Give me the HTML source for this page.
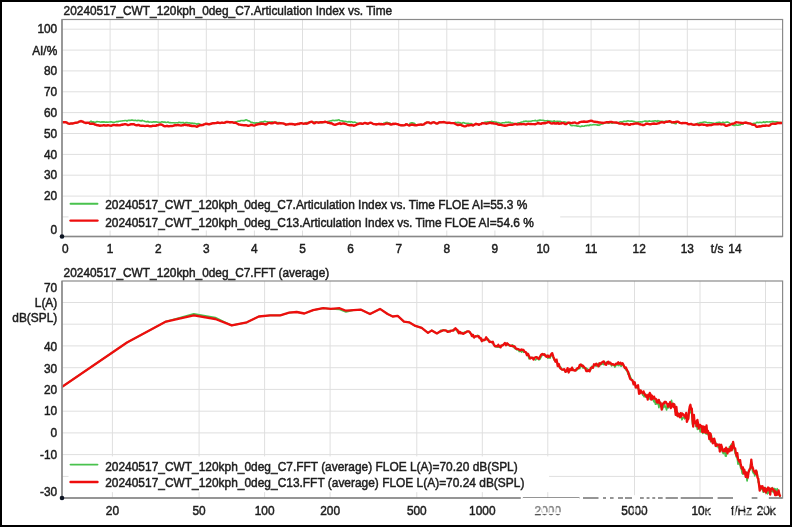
<!DOCTYPE html>
<html><head><meta charset="utf-8"><title>Articulation Index and FFT</title>
<style>html,body{margin:0;padding:0;background:#fff;overflow:hidden}svg{display:block}text{stroke:#202020;stroke-width:.5px}</style></head>
<body>
<svg width="792" height="527" viewBox="0 0 792 527" font-family="Liberation Sans, Arial, sans-serif" font-size="13.5" fill="#202020">
<defs><filter id="soft" x="-2%" y="-2%" width="104%" height="104%"><feGaussianBlur stdDeviation="0.4"/></filter><clipPath id="c1"><rect x="62" y="19.5" width="720.5" height="217"/></clipPath><clipPath id="c2"><rect x="62" y="281" width="720.5" height="217"/></clipPath></defs>
<rect width="792" height="527" fill="#fff"/>
<g filter="url(#soft)">
<g stroke="#dfdfdf" stroke-width="1">
<line x1="110.1" y1="19.5" x2="110.1" y2="236.5"/>
<line x1="158.2" y1="19.5" x2="158.2" y2="236.5"/>
<line x1="206.3" y1="19.5" x2="206.3" y2="236.5"/>
<line x1="254.4" y1="19.5" x2="254.4" y2="236.5"/>
<line x1="302.5" y1="19.5" x2="302.5" y2="236.5"/>
<line x1="350.6" y1="19.5" x2="350.6" y2="236.5"/>
<line x1="398.7" y1="19.5" x2="398.7" y2="236.5"/>
<line x1="446.8" y1="19.5" x2="446.8" y2="236.5"/>
<line x1="494.9" y1="19.5" x2="494.9" y2="236.5"/>
<line x1="543.0" y1="19.5" x2="543.0" y2="236.5"/>
<line x1="591.1" y1="19.5" x2="591.1" y2="236.5"/>
<line x1="639.2" y1="19.5" x2="639.2" y2="236.5"/>
<line x1="687.3" y1="19.5" x2="687.3" y2="236.5"/>
<line x1="735.4" y1="19.5" x2="735.4" y2="236.5"/>
<line x1="62.0" y1="216.9" x2="782.6" y2="216.9"/>
<line x1="62.0" y1="196.1" x2="782.6" y2="196.1"/>
<line x1="62.0" y1="175.2" x2="782.6" y2="175.2"/>
<line x1="62.0" y1="154.4" x2="782.6" y2="154.4"/>
<line x1="62.0" y1="133.5" x2="782.6" y2="133.5"/>
<line x1="62.0" y1="112.6" x2="782.6" y2="112.6"/>
<line x1="62.0" y1="91.8" x2="782.6" y2="91.8"/>
<line x1="62.0" y1="70.9" x2="782.6" y2="70.9"/>
<line x1="62.0" y1="50.1" x2="782.6" y2="50.1"/>
<line x1="62.0" y1="29.2" x2="782.6" y2="29.2"/>
</g>
<g clip-path="url(#c1)">
<polyline points="62.0,122.2 63.0,122.3 64.0,122.3 65.0,122.3 66.0,122.3 67.0,122.7 68.0,123.4 69.0,123.7 70.0,123.7 71.0,123.4 72.0,123.5 73.0,123.5 74.0,123.1 75.0,122.8 76.0,122.8 77.0,122.6 78.0,122.4 79.0,121.6 80.0,121.5 81.0,121.0 82.0,121.5 83.0,121.7 84.0,122.4 85.0,122.7 86.0,123.1 87.0,122.7 88.0,122.7 89.0,122.9 90.0,121.8 91.0,121.1 92.0,122.1 93.0,121.9 94.0,122.1 95.0,122.4 96.0,122.0 97.0,121.6 98.0,121.8 99.0,121.8 100.0,122.0 101.0,122.2 102.0,121.7 103.0,122.3 104.0,121.8 105.0,122.2 106.0,122.1 107.0,122.1 108.0,122.2 109.0,122.0 110.0,122.0 111.0,121.7 112.0,122.0 113.0,122.4 114.0,122.3 115.0,122.1 116.0,121.8 117.0,121.4 118.0,121.8 119.0,121.3 120.0,121.2 121.0,121.0 122.0,121.0 123.0,120.8 124.0,120.8 125.0,120.5 126.0,120.5 127.0,121.1 128.0,120.4 129.0,120.3 130.0,120.4 131.0,120.3 132.0,119.9 133.0,120.2 134.0,120.5 135.0,120.4 136.0,120.4 137.0,120.9 138.0,120.3 139.0,120.6 140.0,120.5 141.0,121.1 142.0,120.3 143.0,120.8 144.0,121.0 145.0,121.5 146.0,121.6 147.0,121.9 148.0,121.3 149.0,122.1 150.0,122.0 151.0,122.0 152.0,122.3 153.0,121.9 154.0,121.7 155.0,122.1 156.0,121.8 157.0,122.0 158.0,122.3 159.0,122.2 160.0,122.6 161.0,122.1 162.0,121.8 163.0,122.1 164.0,122.1 165.0,122.1 166.0,122.5 167.0,122.3 168.0,122.0 169.0,122.7 170.0,122.6 171.0,122.8 172.0,122.7 173.0,122.8 174.0,122.7 175.0,123.0 176.0,122.8 177.0,122.8 178.0,122.8 179.0,122.3 180.0,122.6 181.0,122.6 182.0,122.8 183.0,122.4 184.0,123.2 185.0,122.9 186.0,122.6 187.0,122.5 188.0,122.9 189.0,123.0 190.0,122.9 191.0,123.2 192.0,123.1 193.0,123.5 194.0,123.2 195.0,123.5 196.0,123.8 197.0,124.3 198.0,123.5 199.0,123.9 200.0,124.1 201.0,124.8 202.0,125.0 203.0,125.0 204.0,124.4 205.0,124.1 206.0,123.6 207.0,124.0 208.0,124.0 209.0,124.4 210.0,124.0 211.0,123.8 212.0,123.4 213.0,123.2 214.0,123.2 215.0,123.1 216.0,123.1 217.0,122.7 218.0,122.5 219.0,122.9 220.0,123.0 221.0,122.9 222.0,122.5 223.0,122.9 224.0,122.8 225.0,122.6 226.0,122.0 227.0,121.9 228.0,122.0 229.0,122.1 230.0,122.5 231.0,122.1 232.0,122.2 233.0,122.4 234.0,122.8 235.0,122.1 236.0,121.9 237.0,121.6 238.0,121.2 239.0,121.1 240.0,121.1 241.0,120.5 242.0,120.5 243.0,120.6 244.0,120.6 245.0,120.4 246.0,119.8 247.0,120.1 248.0,120.7 249.0,120.9 250.0,121.5 251.0,122.3 252.0,122.3 253.0,122.9 254.0,122.7 255.0,123.4 256.0,122.8 257.0,122.8 258.0,123.2 259.0,122.6 260.0,122.1 261.0,122.0 262.0,121.9 263.0,122.0 264.0,121.6 265.0,121.3 266.0,121.7 267.0,121.8 268.0,121.9 269.0,122.3 270.0,122.0 271.0,122.2 272.0,121.8 273.0,122.3 274.0,122.6 275.0,122.4 276.0,122.3 277.0,122.4 278.0,123.0 279.0,122.4 280.0,122.8 281.0,123.1 282.0,123.3 283.0,123.4 284.0,123.7 285.0,124.1 286.0,124.7 287.0,124.4 288.0,124.4 289.0,124.0 290.0,123.9 291.0,124.0 292.0,124.0 293.0,124.2 294.0,124.2 295.0,124.8 296.0,124.3 297.0,124.3 298.0,123.7 299.0,124.0 300.0,123.4 301.0,123.2 302.0,123.3 303.0,123.6 304.0,123.7 305.0,123.4 306.0,122.5 307.0,122.7 308.0,122.5 309.0,122.5 310.0,122.4 311.0,122.1 312.0,122.3 313.0,122.5 314.0,122.0 315.0,122.1 316.0,122.3 317.0,121.9 318.0,122.2 319.0,121.9 320.0,122.5 321.0,122.7 322.0,122.7 323.0,122.1 324.0,122.4 325.0,122.2 326.0,122.1 327.0,122.2 328.0,121.2 329.0,121.5 330.0,120.9 331.0,121.0 332.0,120.6 333.0,120.3 334.0,120.5 335.0,120.6 336.0,120.3 337.0,120.4 338.0,120.0 339.0,119.7 340.0,120.7 341.0,120.8 342.0,120.9 343.0,121.1 344.0,121.5 345.0,121.4 346.0,121.5 347.0,121.7 348.0,122.1 349.0,121.5 350.0,122.2 351.0,121.8 352.0,121.8 353.0,122.5 354.0,122.2 355.0,122.1 356.0,122.6 357.0,123.1 358.0,123.4 359.0,123.7 360.0,123.4 361.0,123.5 362.0,123.7 363.0,123.7 364.0,123.2 365.0,122.9 366.0,123.3 367.0,123.5 368.0,123.7 369.0,123.2 370.0,122.8 371.0,122.8 372.0,123.3 373.0,123.8 374.0,124.1 375.0,124.1 376.0,124.5 377.0,124.2 378.0,124.1 379.0,123.8 380.0,124.3 381.0,124.0 382.0,124.3 383.0,124.3 384.0,123.0 385.0,122.8 386.0,122.5 387.0,122.2 388.0,122.7 389.0,122.9 390.0,123.0 391.0,124.5 392.0,124.4 393.0,123.8 394.0,124.0 395.0,123.8 396.0,123.8 397.0,124.1 398.0,124.3 399.0,124.9 400.0,125.0 401.0,125.4 402.0,125.3 403.0,125.4 404.0,125.3 405.0,125.1 406.0,124.3 407.0,124.4 408.0,125.0 409.0,125.5 410.0,123.2 411.0,122.9 412.0,122.8 413.0,122.9 414.0,123.2 415.0,123.9 416.0,125.3 417.0,125.2 418.0,124.9 419.0,124.7 420.0,124.6 421.0,124.5 422.0,124.7 423.0,124.6 424.0,124.3 425.0,123.3 426.0,123.0 427.0,122.4 428.0,122.4 429.0,122.5 430.0,123.1 431.0,123.4 432.0,122.7 433.0,122.4 434.0,122.3 435.0,122.8 436.0,123.4 437.0,123.6 438.0,123.2 439.0,122.4 440.0,122.3 441.0,122.4 442.0,122.3 443.0,122.3 444.0,122.0 445.0,122.4 446.0,122.6 447.0,123.0 448.0,122.7 449.0,122.8 450.0,122.8 451.0,123.1 452.0,123.1 453.0,123.1 454.0,122.9 455.0,122.5 456.0,122.4 457.0,122.9 458.0,122.3 459.0,122.8 460.0,122.6 461.0,123.2 462.0,123.3 463.0,122.5 464.0,122.8 465.0,123.3 466.0,123.4 467.0,123.5 468.0,123.3 469.0,123.5 470.0,123.7 471.0,123.5 472.0,123.9 473.0,125.5 474.0,124.8 475.0,124.4 476.0,123.7 477.0,124.3 478.0,124.3 479.0,124.9 480.0,124.1 481.0,124.1 482.0,123.2 483.0,122.6 484.0,122.9 485.0,122.1 486.0,122.4 487.0,122.0 488.0,121.8 489.0,122.1 490.0,121.7 491.0,121.6 492.0,121.4 493.0,121.7 494.0,121.8 495.0,122.1 496.0,122.0 497.0,122.6 498.0,122.6 499.0,122.8 500.0,123.2 501.0,123.4 502.0,122.9 503.0,122.8 504.0,122.7 505.0,122.6 506.0,122.2 507.0,122.6 508.0,122.1 509.0,122.5 510.0,122.3 511.0,122.8 512.0,123.0 513.0,123.0 514.0,123.8 515.0,123.6 516.0,124.1 517.0,123.6 518.0,122.9 519.0,122.7 520.0,122.7 521.0,122.3 522.0,122.0 523.0,121.7 524.0,121.2 525.0,121.5 526.0,121.0 527.0,121.6 528.0,121.3 529.0,121.2 530.0,121.3 531.0,121.4 532.0,120.9 533.0,120.7 534.0,120.8 535.0,120.4 536.0,120.6 537.0,121.1 538.0,120.3 539.0,120.6 540.0,119.9 541.0,120.2 542.0,120.2 543.0,120.3 544.0,120.6 545.0,121.0 546.0,120.7 547.0,120.8 548.0,120.6 549.0,121.1 550.0,121.0 551.0,121.4 552.0,121.2 553.0,121.7 554.0,120.8 555.0,121.3 556.0,121.6 557.0,121.4 558.0,121.3 559.0,121.5 560.0,121.3 561.0,121.7 562.0,122.4 563.0,122.2 564.0,121.8 565.0,122.0 566.0,122.2 567.0,122.7 568.0,122.4 569.0,122.8 570.0,124.4 571.0,125.5 572.0,125.6 573.0,125.5 574.0,125.5 575.0,125.7 576.0,125.4 577.0,126.2 578.0,125.9 579.0,126.2 580.0,126.6 581.0,126.5 582.0,125.9 583.0,126.3 584.0,126.2 585.0,125.7 586.0,125.5 587.0,125.6 588.0,125.2 589.0,125.8 590.0,124.8 591.0,125.0 592.0,125.0 593.0,124.8 594.0,124.6 595.0,124.8 596.0,124.8 597.0,125.1 598.0,124.9 599.0,125.4 600.0,124.8 601.0,124.1 602.0,124.0 603.0,123.3 604.0,123.4 605.0,122.9 606.0,122.8 607.0,122.5 608.0,123.2 609.0,123.3 610.0,122.3 611.0,122.8 612.0,123.3 613.0,122.9 614.0,122.7 615.0,122.6 616.0,122.5 617.0,122.6 618.0,123.1 619.0,122.6 620.0,121.8 621.0,121.7 622.0,122.2 623.0,121.6 624.0,121.3 625.0,121.4 626.0,121.5 627.0,121.1 628.0,120.8 629.0,121.0 630.0,121.2 631.0,121.1 632.0,121.1 633.0,121.5 634.0,121.4 635.0,121.8 636.0,122.0 637.0,122.7 638.0,121.9 639.0,122.0 640.0,121.9 641.0,121.9 642.0,122.0 643.0,121.5 644.0,121.3 645.0,121.0 646.0,121.1 647.0,121.4 648.0,121.2 649.0,120.9 650.0,121.1 651.0,121.2 652.0,121.3 653.0,121.0 654.0,121.1 655.0,120.7 656.0,120.9 657.0,121.6 658.0,120.6 659.0,121.1 660.0,121.3 661.0,121.2 662.0,121.2 663.0,121.4 664.0,121.5 665.0,121.5 666.0,121.1 667.0,121.6 668.0,121.5 669.0,121.8 670.0,122.2 671.0,122.5 672.0,122.7 673.0,122.6 674.0,123.2 675.0,123.6 676.0,123.8 677.0,121.7 678.0,121.6 679.0,122.4 680.0,122.9 681.0,123.1 682.0,123.2 683.0,123.0 684.0,123.1 685.0,123.0 686.0,123.1 687.0,123.3 688.0,124.1 689.0,124.2 690.0,124.1 691.0,123.9 692.0,124.4 693.0,124.6 694.0,124.9 695.0,124.5 696.0,124.4 697.0,123.6 698.0,123.2 699.0,123.3 700.0,122.6 701.0,122.8 702.0,122.5 703.0,122.4 704.0,122.0 705.0,122.0 706.0,122.2 707.0,122.6 708.0,122.7 709.0,122.6 710.0,122.7 711.0,122.7 712.0,123.1 713.0,123.1 714.0,123.3 715.0,123.5 716.0,123.0 717.0,122.6 718.0,122.6 719.0,122.4 720.0,122.4 721.0,123.0 722.0,122.7 723.0,122.1 724.0,122.6 725.0,122.7 726.0,122.2 727.0,122.1 728.0,122.1 729.0,122.6 730.0,123.3 731.0,124.0 732.0,124.7 733.0,125.2 734.0,125.5 735.0,125.4 736.0,124.8 737.0,125.2 738.0,125.3 739.0,124.9 740.0,125.0 741.0,124.4 742.0,123.9 743.0,124.2 744.0,122.8 745.0,122.8 746.0,122.5 747.0,123.0 748.0,123.2 749.0,123.4 750.0,123.5 751.0,123.8 752.0,124.0 753.0,123.5 754.0,123.4 755.0,123.3 756.0,123.0 757.0,122.2 758.0,122.6 759.0,122.5 760.0,122.3 761.0,122.5 762.0,122.6 763.0,122.1 764.0,121.9 765.0,122.6 766.0,121.9 767.0,121.7 768.0,122.0 769.0,122.0 770.0,121.7 771.0,122.0 772.0,121.6 773.0,121.5 774.0,121.7 775.0,122.0 776.0,121.8 777.0,122.1 778.0,122.1 779.0,123.0 780.0,122.2 781.0,122.8 782.0,122.6" fill="none" stroke="#48c24e" stroke-width="1.6" stroke-linejoin="round" stroke-linecap="round"/>
<polyline points="62.0,122.2 63.0,122.3 64.0,122.3 65.0,122.3 66.0,122.3 67.0,122.7 68.0,123.4 69.0,123.7 70.0,123.7 71.0,123.4 72.0,123.5 73.0,123.5 74.0,123.1 75.0,122.8 76.0,122.8 77.0,122.6 78.0,122.4 79.0,121.6 80.0,121.5 81.0,121.0 82.0,121.5 83.0,121.7 84.0,122.4 85.0,122.7 86.0,123.1 87.0,122.7 88.0,122.7 89.0,122.9 90.0,123.8 91.0,123.7 92.0,123.8 93.0,123.7 94.0,124.0 95.0,124.6 96.0,124.8 97.0,125.2 98.0,125.3 99.0,125.5 100.0,125.7 101.0,125.5 102.0,125.6 103.0,125.3 104.0,125.3 105.0,125.5 106.0,125.4 107.0,125.5 108.0,125.2 109.0,125.4 110.0,125.6 111.0,125.7 112.0,125.5 113.0,125.0 114.0,124.9 115.0,125.1 116.0,125.2 117.0,125.0 118.0,125.2 119.0,125.4 120.0,125.2 121.0,125.0 122.0,124.5 123.0,124.7 124.0,124.3 125.0,124.3 126.0,124.2 127.0,124.7 128.0,125.1 129.0,124.9 130.0,124.5 131.0,124.3 132.0,124.2 133.0,124.3 134.0,124.1 135.0,124.9 136.0,125.2 137.0,125.3 138.0,125.0 139.0,125.0 140.0,125.6 141.0,125.7 142.0,125.8 143.0,125.7 144.0,125.9 145.0,126.1 146.0,125.9 147.0,125.8 148.0,125.7 149.0,126.1 150.0,126.2 151.0,126.2 152.0,126.0 153.0,125.7 154.0,125.9 155.0,125.7 156.0,125.8 157.0,125.1 158.0,125.2 159.0,124.6 160.0,124.5 161.0,124.5 162.0,124.8 163.0,125.4 164.0,126.1 165.0,126.2 166.0,126.1 167.0,125.8 168.0,126.2 169.0,126.3 170.0,126.1 171.0,126.0 172.0,126.1 173.0,125.8 174.0,125.5 175.0,125.3 176.0,125.2 177.0,125.2 178.0,124.9 179.0,125.3 180.0,125.4 181.0,125.6 182.0,125.3 183.0,125.3 184.0,124.9 185.0,124.8 186.0,125.0 187.0,125.0 188.0,125.5 189.0,125.1 190.0,125.8 191.0,125.5 192.0,126.1 193.0,126.0 194.0,125.9 195.0,126.1 196.0,126.5 197.0,126.7 198.0,126.1 199.0,125.6 200.0,125.1 201.0,125.3 202.0,125.0 203.0,125.0 204.0,124.4 205.0,124.1 206.0,123.6 207.0,124.0 208.0,124.0 209.0,124.4 210.0,124.0 211.0,123.8 212.0,123.4 213.0,123.2 214.0,123.2 215.0,123.1 216.0,123.1 217.0,122.7 218.0,122.5 219.0,122.9 220.0,123.0 221.0,122.9 222.0,122.5 223.0,122.9 224.0,122.8 225.0,122.6 226.0,122.0 227.0,121.9 228.0,122.0 229.0,122.1 230.0,122.5 231.0,122.1 232.0,122.2 233.0,122.4 234.0,122.8 235.0,122.7 236.0,122.9 237.0,123.5 238.0,124.0 239.0,124.6 240.0,124.6 241.0,124.9 242.0,125.0 243.0,125.1 244.0,125.2 245.0,125.2 246.0,125.1 247.0,125.5 248.0,125.7 249.0,125.7 250.0,125.3 251.0,124.8 252.0,125.0 253.0,125.3 254.0,125.6 255.0,125.3 256.0,124.7 257.0,124.5 258.0,124.3 259.0,124.0 260.0,124.1 261.0,123.5 262.0,123.8 263.0,123.6 264.0,124.0 265.0,124.3 266.0,124.5 267.0,123.9 268.0,123.1 269.0,122.9 270.0,122.9 271.0,123.3 272.0,123.2 273.0,123.1 274.0,122.5 275.0,122.4 276.0,122.8 277.0,123.4 278.0,123.5 279.0,123.4 280.0,123.2 281.0,123.3 282.0,123.4 283.0,123.4 284.0,123.7 285.0,124.1 286.0,124.7 287.0,124.4 288.0,124.4 289.0,124.0 290.0,123.9 291.0,124.0 292.0,124.0 293.0,124.2 294.0,124.2 295.0,124.8 296.0,124.3 297.0,124.3 298.0,123.7 299.0,124.0 300.0,123.4 301.0,123.2 302.0,123.3 303.0,123.6 304.0,123.7 305.0,123.4 306.0,123.7 307.0,123.6 308.0,123.1 309.0,122.6 310.0,122.1 311.0,121.8 312.0,121.8 313.0,122.6 314.0,123.3 315.0,123.0 316.0,122.3 317.0,122.4 318.0,122.6 319.0,122.7 320.0,122.3 321.0,122.1 322.0,122.2 323.0,122.2 324.0,122.1 325.0,121.7 326.0,122.0 327.0,122.1 328.0,122.9 329.0,122.7 330.0,123.2 331.0,123.2 332.0,123.5 333.0,124.2 334.0,124.6 335.0,124.8 336.0,124.5 337.0,124.2 338.0,123.7 339.0,123.5 340.0,123.3 341.0,124.0 342.0,123.6 343.0,123.5 344.0,123.4 345.0,123.9 346.0,124.0 347.0,124.5 348.0,124.9 349.0,125.1 350.0,125.4 351.0,125.0 352.0,125.3 353.0,125.4 354.0,125.8 355.0,125.3 356.0,124.9 357.0,124.4 358.0,124.0 359.0,123.7 360.0,123.4 361.0,123.5 362.0,123.7 363.0,123.7 364.0,123.2 365.0,122.9 366.0,123.3 367.0,123.5 368.0,123.7 369.0,123.2 370.0,122.8 371.0,122.8 372.0,123.3 373.0,123.8 374.0,124.1 375.0,124.1 376.0,124.5 377.0,124.2 378.0,124.1 379.0,123.8 380.0,124.3 381.0,124.0 382.0,124.3 383.0,124.3 384.0,124.4 385.0,124.0 386.0,123.5 387.0,123.6 388.0,123.6 389.0,123.7 390.0,124.3 391.0,124.5 392.0,124.4 393.0,123.8 394.0,124.0 395.0,123.8 396.0,123.8 397.0,124.1 398.0,124.3 399.0,124.9 400.0,125.0 401.0,125.4 402.0,125.3 403.0,125.4 404.0,125.3 405.0,125.1 406.0,124.3 407.0,124.4 408.0,125.0 409.0,125.5 410.0,125.3 411.0,124.8 412.0,124.5 413.0,124.8 414.0,125.0 415.0,125.2 416.0,125.3 417.0,125.2 418.0,124.9 419.0,124.7 420.0,124.6 421.0,124.5 422.0,124.7 423.0,124.6 424.0,124.3 425.0,123.3 426.0,123.0 427.0,122.4 428.0,122.4 429.0,122.5 430.0,123.1 431.0,123.4 432.0,122.7 433.0,122.4 434.0,122.3 435.0,122.8 436.0,123.4 437.0,123.6 438.0,123.2 439.0,122.4 440.0,122.3 441.0,122.4 442.0,122.3 443.0,122.3 444.0,122.0 445.0,122.4 446.0,122.6 447.0,123.0 448.0,122.7 449.0,122.8 450.0,122.8 451.0,123.1 452.0,123.1 453.0,123.1 454.0,123.1 455.0,123.7 456.0,124.2 457.0,124.8 458.0,125.0 459.0,124.8 460.0,124.8 461.0,124.8 462.0,125.5 463.0,125.8 464.0,126.2 465.0,126.4 466.0,126.1 467.0,125.4 468.0,125.3 469.0,125.5 470.0,125.1 471.0,125.0 472.0,124.9 473.0,125.5 474.0,124.8 475.0,124.4 476.0,123.7 477.0,124.3 478.0,124.3 479.0,124.9 480.0,124.1 481.0,124.1 482.0,123.2 483.0,123.2 484.0,123.4 485.0,123.4 486.0,123.7 487.0,123.5 488.0,123.4 489.0,123.0 490.0,122.7 491.0,123.0 492.0,123.2 493.0,123.3 494.0,123.5 495.0,123.6 496.0,123.7 497.0,123.9 498.0,124.6 499.0,124.7 500.0,124.9 501.0,124.8 502.0,125.1 503.0,125.5 504.0,125.4 505.0,125.9 506.0,125.4 507.0,125.5 508.0,125.0 509.0,124.9 510.0,124.8 511.0,124.7 512.0,124.9 513.0,124.6 514.0,124.3 515.0,124.0 516.0,123.9 517.0,124.5 518.0,124.4 519.0,124.4 520.0,123.8 521.0,124.3 522.0,124.1 523.0,124.1 524.0,124.0 525.0,124.4 526.0,124.5 527.0,124.2 528.0,123.7 529.0,123.8 530.0,124.1 531.0,124.0 532.0,124.1 533.0,124.1 534.0,124.1 535.0,124.3 536.0,123.9 537.0,123.6 538.0,122.9 539.0,123.5 540.0,123.5 541.0,123.9 542.0,123.3 543.0,123.2 544.0,123.0 545.0,123.3 546.0,122.9 547.0,122.6 548.0,122.1 549.0,122.1 550.0,122.8 551.0,123.4 552.0,123.6 553.0,123.2 554.0,123.0 555.0,123.6 556.0,123.3 557.0,123.5 558.0,122.9 559.0,123.8 560.0,123.4 561.0,123.6 562.0,123.0 563.0,123.0 564.0,123.4 565.0,124.0 566.0,124.1 567.0,123.5 568.0,122.8 569.0,122.7 570.0,122.8 571.0,123.1 572.0,123.1 573.0,122.7 574.0,122.6 575.0,122.5 576.0,123.0 577.0,123.4 578.0,123.2 579.0,122.6 580.0,122.1 581.0,121.9 582.0,121.8 583.0,121.7 584.0,121.5 585.0,121.7 586.0,121.6 587.0,121.8 588.0,121.5 589.0,121.3 590.0,120.9 591.0,120.8 592.0,120.9 593.0,121.4 594.0,121.7 595.0,121.8 596.0,122.0 597.0,121.9 598.0,122.3 599.0,122.5 600.0,122.5 601.0,122.6 602.0,122.7 603.0,123.1 604.0,122.8 605.0,122.6 606.0,122.3 607.0,122.3 608.0,122.1 609.0,122.3 610.0,121.9 611.0,122.0 612.0,122.0 613.0,122.4 614.0,122.4 615.0,122.6 616.0,122.4 617.0,122.8 618.0,122.9 619.0,123.5 620.0,123.6 621.0,123.6 622.0,123.6 623.0,123.8 624.0,124.3 625.0,124.5 626.0,124.0 627.0,124.0 628.0,124.2 629.0,124.8 630.0,124.8 631.0,124.1 632.0,124.1 633.0,124.0 634.0,123.8 635.0,123.6 636.0,123.3 637.0,123.6 638.0,123.4 639.0,124.0 640.0,124.3 641.0,124.5 642.0,124.6 643.0,125.1 644.0,125.0 645.0,124.5 646.0,123.8 647.0,123.7 648.0,123.8 649.0,124.1 650.0,124.2 651.0,124.2 652.0,123.8 653.0,123.7 654.0,123.5 655.0,123.7 656.0,123.9 657.0,123.7 658.0,123.4 659.0,123.2 660.0,122.7 661.0,122.3 662.0,122.3 663.0,122.4 664.0,122.7 665.0,122.1 666.0,121.9 667.0,121.6 668.0,121.7 669.0,121.3 670.0,121.3 671.0,121.8 672.0,122.4 673.0,122.3 674.0,122.1 675.0,122.2 676.0,121.7 677.0,121.7 678.0,121.6 679.0,122.4 680.0,122.9 681.0,123.1 682.0,123.2 683.0,123.0 684.0,123.1 685.0,123.0 686.0,123.1 687.0,123.3 688.0,124.1 689.0,124.2 690.0,124.1 691.0,123.9 692.0,124.4 693.0,124.6 694.0,124.9 695.0,124.5 696.0,124.5 697.0,124.2 698.0,124.7 699.0,125.1 700.0,124.8 701.0,124.5 702.0,124.4 703.0,124.7 704.0,124.6 705.0,124.9 706.0,125.2 707.0,125.6 708.0,125.1 709.0,125.2 710.0,124.9 711.0,125.2 712.0,124.7 713.0,124.5 714.0,124.2 715.0,124.1 716.0,124.4 717.0,124.3 718.0,124.2 719.0,124.1 720.0,124.0 721.0,124.5 722.0,124.4 723.0,124.4 724.0,124.5 725.0,125.3 726.0,125.9 727.0,125.7 728.0,125.2 729.0,125.0 730.0,124.8 731.0,124.3 732.0,123.7 733.0,123.7 734.0,123.5 735.0,122.9 736.0,122.2 737.0,122.4 738.0,122.4 739.0,122.6 740.0,122.6 741.0,123.0 742.0,123.0 743.0,123.1 744.0,122.8 745.0,122.8 746.0,122.5 747.0,123.0 748.0,123.2 749.0,123.4 750.0,123.5 751.0,123.8 752.0,124.6 753.0,124.7 754.0,124.9 755.0,125.0 756.0,126.4 757.0,126.9 758.0,126.8 759.0,126.3 760.0,126.5 761.0,126.3 762.0,126.0 763.0,125.7 764.0,125.7 765.0,125.9 766.0,125.4 767.0,125.6 768.0,125.6 769.0,125.7 770.0,125.2 771.0,124.1 772.0,123.9 773.0,123.5 774.0,123.9 775.0,123.8 776.0,123.7 777.0,123.2 778.0,123.0 779.0,122.9 780.0,123.2 781.0,122.9 782.0,123.0" fill="none" stroke="#ee1111" stroke-width="2.4" stroke-linejoin="round" stroke-linecap="round"/>
</g>
<rect x="68.5" y="197.2" width="491.7" height="33.3" fill="#fff"/>
<line x1="70.5" y1="203.7" x2="97.5" y2="203.7" stroke="#48c24e" stroke-width="1.9" stroke-linecap="round"/>
<line x1="70.5" y1="220.6" x2="97.5" y2="220.6" stroke="#ee1111" stroke-width="2.4" stroke-linecap="round"/>
<text transform="translate(105.2 209.4) scale(0.8835 1)" text-anchor="start" >20240517_CWT_120kph_0deg_C7.Articulation Index vs. Time FLOE AI=55.3 %</text>
<text transform="translate(105.2 226.6) scale(0.8835 1)" text-anchor="start" >20240517_CWT_120kph_0deg_C13.Articulation Index vs. Time FLOE AI=54.6 %</text>
<rect x="62.0" y="19.5" width="720.6" height="217.0" fill="none" stroke="#8a8a8a" stroke-width="1.2"/>
<line x1="62.0" y1="19.5" x2="62.0" y2="236.5" stroke="#888" stroke-width="1.3"/>
<line x1="62.0" y1="236.5" x2="782.6" y2="236.5" stroke="#888" stroke-width="1.3"/>
<circle cx="62.0" cy="236.5" r="2.3" fill="#0a1224"/>
<text transform="translate(63.6 14.7) scale(0.88 1)" text-anchor="start" >20240517_CWT_120kph_0deg_C7.Articulation Index vs. Time</text>
<text transform="translate(57.2 32.9) scale(0.88 1)" text-anchor="end" >100</text>
<text transform="translate(57.2 54.7) scale(0.88 1)" text-anchor="end" >AI/%</text>
<text transform="translate(57.2 74.7) scale(0.88 1)" text-anchor="end" >80</text>
<text transform="translate(57.2 95.9) scale(0.88 1)" text-anchor="end" >70</text>
<text transform="translate(57.2 116.9) scale(0.88 1)" text-anchor="end" >60</text>
<text transform="translate(57.2 137.6) scale(0.88 1)" text-anchor="end" >50</text>
<text transform="translate(57.2 158.6) scale(0.88 1)" text-anchor="end" >40</text>
<text transform="translate(57.2 178.9) scale(0.88 1)" text-anchor="end" >30</text>
<text transform="translate(57.2 199.7) scale(0.88 1)" text-anchor="end" >20</text>
<text transform="translate(57.2 234.1) scale(0.88 1)" text-anchor="end" >0</text>
<text transform="translate(65.3 253.2) scale(0.88 1)" text-anchor="middle" >0</text>
<text transform="translate(110.1 253.2) scale(0.88 1)" text-anchor="middle" >1</text>
<text transform="translate(158.2 253.2) scale(0.88 1)" text-anchor="middle" >2</text>
<text transform="translate(206.3 253.2) scale(0.88 1)" text-anchor="middle" >3</text>
<text transform="translate(254.4 253.2) scale(0.88 1)" text-anchor="middle" >4</text>
<text transform="translate(302.5 253.2) scale(0.88 1)" text-anchor="middle" >5</text>
<text transform="translate(350.6 253.2) scale(0.88 1)" text-anchor="middle" >6</text>
<text transform="translate(398.7 253.2) scale(0.88 1)" text-anchor="middle" >7</text>
<text transform="translate(446.8 253.2) scale(0.88 1)" text-anchor="middle" >8</text>
<text transform="translate(494.9 253.2) scale(0.88 1)" text-anchor="middle" >9</text>
<text transform="translate(543.0 253.2) scale(0.88 1)" text-anchor="middle" >10</text>
<text transform="translate(591.1 253.2) scale(0.88 1)" text-anchor="middle" >11</text>
<text transform="translate(639.2 253.2) scale(0.88 1)" text-anchor="middle" >12</text>
<text transform="translate(687.3 253.2) scale(0.88 1)" text-anchor="middle" >13</text>
<text transform="translate(723.4 253.2) scale(0.88 1)" text-anchor="end" >t/s</text>
<text transform="translate(734.9 253.2) scale(0.88 1)" text-anchor="middle" >14</text>
<g stroke="#dfdfdf" stroke-width="1">
<line x1="112.4" y1="281.0" x2="112.4" y2="498.0"/>
<line x1="199.1" y1="281.0" x2="199.1" y2="498.0"/>
<line x1="264.6" y1="281.0" x2="264.6" y2="498.0"/>
<line x1="330.1" y1="281.0" x2="330.1" y2="498.0"/>
<line x1="416.8" y1="281.0" x2="416.8" y2="498.0"/>
<line x1="482.3" y1="281.0" x2="482.3" y2="498.0"/>
<line x1="547.8" y1="281.0" x2="547.8" y2="498.0"/>
<line x1="634.5" y1="281.0" x2="634.5" y2="498.0"/>
<line x1="700.0" y1="281.0" x2="700.0" y2="498.0"/>
<line x1="765.5" y1="281.0" x2="765.5" y2="498.0"/>
<line x1="62.0" y1="476.4" x2="782.6" y2="476.4"/>
<line x1="62.0" y1="454.6" x2="782.6" y2="454.6"/>
<line x1="62.0" y1="432.9" x2="782.6" y2="432.9"/>
<line x1="62.0" y1="411.2" x2="782.6" y2="411.2"/>
<line x1="62.0" y1="389.4" x2="782.6" y2="389.4"/>
<line x1="62.0" y1="367.7" x2="782.6" y2="367.7"/>
<line x1="62.0" y1="345.9" x2="782.6" y2="345.9"/>
<line x1="62.0" y1="324.2" x2="782.6" y2="324.2"/>
<line x1="62.0" y1="302.5" x2="782.6" y2="302.5"/>
</g>
<g clip-path="url(#c2)">
<polyline points="62.5,386.5 127.0,342.5 166.0,321.6 193.8,313.9 215.3,317.6 231.7,325.4 246.9,322.3 258.8,316.5 270.2,315.3 280.3,315.3 289.1,312.7 296.7,312.0 304.3,313.5 313.1,310.2 323.2,308.2 330.8,308.9 339.6,309.4 346.0,311.9 353.5,310.2 361.1,309.7 370.0,314.0 380.0,308.9 387.6,314.0 392.7,316.5 397.7,315.8 404.0,321.6 409.1,322.3 415.4,325.9 421.7,327.9 428.0,332.9 431.8,330.4 436.9,333.4 440.0,331.7 441.1,330.1 442.2,330.9 443.3,329.8 444.4,330.2 445.5,330.8 446.6,331.3 447.7,332.1 448.8,330.9 449.9,330.7 451.0,330.9 452.1,330.4 453.2,329.8 454.3,329.3 455.4,329.1 456.5,330.4 457.6,332.1 458.7,331.9 459.8,333.5 460.9,333.2 462.0,332.6 463.1,333.4 464.2,332.2 465.3,332.2 466.4,331.7 467.5,331.4 468.6,331.3 469.7,332.4 470.8,334.0 471.9,334.0 473.0,336.8 474.1,336.9 475.2,336.8 476.3,336.3 477.4,335.3 478.5,335.7 479.6,337.4 480.7,339.4 481.8,341.1 482.9,340.8 484.0,339.6 485.1,339.4 486.2,339.0 487.3,340.1 488.4,339.2 489.5,341.9 490.6,341.5 491.7,342.0 492.8,343.3 493.9,344.8 495.0,345.5 496.1,347.0 497.2,347.0 498.3,347.2 499.4,346.8 500.5,345.5 501.6,346.1 502.7,344.8 503.8,344.4 504.9,343.6 506.0,344.3 507.1,345.2 508.2,344.1 509.3,345.7 510.4,345.7 511.5,345.9 512.6,344.9 513.7,347.2 514.8,348.5 515.9,348.5 517.0,349.9 518.1,349.1 519.2,351.5 520.3,350.8 521.4,352.0 522.5,350.3 523.6,352.3 524.7,351.8 525.8,352.7 526.9,353.1 528.0,355.0 529.1,358.8 530.2,357.5 531.3,357.6 532.4,358.1 533.5,357.6 534.6,359.4 535.7,359.9 536.8,358.2 537.9,357.5 539.0,359.8 540.1,359.0 541.2,356.7 542.3,354.8 543.4,354.0 544.5,355.2 545.6,355.0 546.7,355.7 547.8,358.2 548.9,357.2 550.0,358.2 551.1,355.3 552.2,355.1 553.3,357.9 554.4,360.3 555.5,360.9 556.6,361.3 557.7,364.2 558.8,366.6 559.9,366.8 561.0,367.5 562.1,369.8 563.2,370.0 564.3,369.9 565.4,371.4 566.5,371.6 567.6,371.3 568.7,370.1 569.8,369.8 570.9,369.4 572.0,367.6 573.1,369.5 574.2,370.1 575.3,369.9 576.4,370.5 577.5,369.4 578.6,368.1 579.7,368.6 580.8,365.8 581.9,364.6 583.0,368.1 584.1,367.3 585.2,368.4 586.3,368.1 587.4,368.9 588.5,369.8 589.6,370.2 590.7,369.8 591.8,366.3 592.9,367.9 594.0,365.1 595.1,364.9 596.2,366.2 597.3,365.2 598.4,363.5 599.5,366.3 600.6,363.5 601.7,364.3 602.8,363.8 603.9,364.6 605.0,362.5 606.1,363.5 607.2,361.8 608.3,364.0 609.4,362.5 610.5,363.3 611.6,365.8 612.7,364.7 613.8,364.8 614.9,367.0 616.0,365.2 617.1,364.1 618.2,365.6 619.3,363.7 620.4,366.0 621.5,366.1 622.6,364.3 623.7,365.3 624.8,368.0 625.9,369.8 627.0,370.7 628.1,374.2 629.2,373.5 630.3,377.0 631.4,378.9 632.5,381.0 633.6,383.4 634.7,383.4 635.8,386.8 636.9,387.5 638.0,388.6 639.1,389.4 640.0,390.5 640.7,392.6 641.4,391.7 642.1,393.4 642.8,395.1 643.5,395.6 644.2,396.8 644.9,394.8 645.6,394.1 646.3,397.2 647.0,396.6 647.7,398.1 648.4,396.9 649.1,398.9 649.8,398.8 650.5,398.9 651.2,399.0 651.9,399.3 652.6,399.6 653.3,400.1 654.0,401.8 654.7,399.8 655.4,404.2 656.1,401.5 656.8,404.0 657.5,402.6 658.2,402.8 658.9,407.6 659.6,403.7 660.3,402.2 661.0,403.4 661.7,404.4 662.4,409.4 663.1,405.8 663.8,407.4 664.5,403.9 665.2,406.7 665.9,407.5 666.6,409.9 667.3,405.3 668.0,408.0 668.7,407.6 669.4,405.2 670.1,406.9 670.8,405.4 671.5,400.3 672.2,405.1 672.9,404.7 673.6,404.4 674.3,404.2 675.0,411.4 675.7,410.6 676.4,413.7 677.1,416.0 677.8,412.9 678.5,416.2 679.2,414.9 679.9,415.9 680.6,416.6 681.3,417.4 682.0,419.8 682.7,418.0 683.4,417.5 684.1,417.4 684.8,418.8 685.5,416.5 686.2,417.4 686.9,418.5 687.6,417.6 688.3,418.6 689.0,412.6 689.7,413.0 690.4,408.0 691.1,411.0 691.8,414.7 692.5,424.1 693.2,421.5 693.9,421.4 694.6,422.9 695.3,423.6 696.0,426.6 696.7,424.4 697.4,429.5 698.1,424.0 698.8,428.0 699.5,425.2 700.2,431.8 700.9,428.0 701.6,429.2 702.3,431.9 703.0,433.3 703.7,429.1 704.4,431.3 705.1,429.9 705.8,433.7 706.5,433.9 707.2,434.1 707.9,434.0 708.6,435.4 709.3,435.5 710.0,438.9 710.7,441.7 711.4,435.5 712.1,440.0 712.8,440.2 713.5,442.8 714.2,440.7 714.9,443.2 715.6,442.2 716.3,446.5 717.0,446.0 717.7,446.1 718.4,447.7 719.1,447.1 719.8,445.0 720.5,449.9 721.2,449.9 721.9,449.6 722.6,452.4 723.3,453.5 724.0,449.5 724.7,450.7 725.4,455.9 726.1,456.2 726.8,452.5 727.5,450.5 728.2,450.5 728.9,449.7 729.6,446.5 730.3,448.6 731.0,444.9 731.7,444.0 732.4,447.0 733.1,442.8 733.8,445.8 734.5,450.1 735.2,453.4 735.9,454.1 736.6,457.7 737.3,457.8 738.0,464.2 738.7,463.6 739.4,461.7 740.1,465.4 740.8,468.2 741.5,469.3 742.2,473.4 742.9,474.0 743.6,471.9 744.3,473.6 745.0,471.8 745.7,475.2 746.4,475.5 747.1,480.8 747.8,476.3 748.5,470.8 749.2,470.7 749.9,469.5 750.6,464.1 751.3,464.3 752.0,467.8 752.7,471.6 753.4,473.1 754.1,473.0 754.8,475.8 755.5,472.9 756.2,472.6 756.9,471.8 757.6,476.4 758.3,482.7 759.0,482.0 759.7,487.5 760.4,489.4 761.1,487.8 761.8,489.3 762.5,487.3 763.2,492.1 763.9,492.1 764.6,490.9 765.3,487.7 766.0,488.9 766.7,492.5 767.4,493.8 768.1,491.1 768.8,492.8 769.5,489.4 770.2,490.1 770.9,490.4 771.6,491.1 772.3,487.5 773.0,491.9 773.7,492.5 774.4,488.6 775.1,488.8 775.8,492.4 776.5,491.2 777.2,488.7 777.9,494.9 778.6,494.3 779.3,494.2 780.0,497.5" fill="none" stroke="#48c24e" stroke-width="1.7" stroke-linejoin="round" stroke-linecap="round"/>
<polyline points="62.5,386.5 127.0,342.5 166.0,321.6 193.8,315.3 215.3,319.0 231.7,325.4 246.9,322.3 258.8,316.5 270.2,315.3 280.3,315.3 289.1,312.7 296.7,312.0 304.3,313.5 313.1,310.2 323.2,308.2 330.8,308.9 339.6,308.2 346.0,310.7 353.5,310.2 361.1,309.7 370.0,314.0 380.0,308.9 387.6,314.0 392.7,316.5 397.7,315.8 404.0,321.6 409.1,322.3 415.4,325.9 421.7,327.9 428.0,332.9 431.8,330.4 436.9,333.4 440.0,331.5 441.1,331.3 442.2,330.7 443.3,330.4 444.4,330.3 445.5,330.3 446.6,330.8 447.7,331.9 448.8,331.6 449.9,331.7 451.0,330.7 452.1,330.7 453.2,330.7 454.3,329.4 455.4,328.2 456.5,329.4 457.6,330.2 458.7,333.2 459.8,331.8 460.9,333.3 462.0,332.9 463.1,333.8 464.2,333.4 465.3,332.7 466.4,331.9 467.5,331.4 468.6,331.3 469.7,332.0 470.8,333.6 471.9,336.0 473.0,334.9 474.1,337.6 475.2,336.2 476.3,336.4 477.4,336.3 478.5,336.1 479.6,338.2 480.7,337.9 481.8,341.2 482.9,339.6 484.0,340.3 485.1,339.7 486.2,337.3 487.3,338.9 488.4,340.3 489.5,342.0 490.6,341.7 491.7,342.3 492.8,341.7 493.9,344.9 495.0,346.3 496.1,346.0 497.2,346.4 498.3,344.8 499.4,346.4 500.5,347.4 501.6,345.4 502.7,345.4 503.8,344.4 504.9,343.0 506.0,345.2 507.1,343.3 508.2,344.4 509.3,345.1 510.4,345.9 511.5,345.7 512.6,346.3 513.7,346.2 514.8,346.6 515.9,348.6 517.0,348.9 518.1,349.2 519.2,349.6 520.3,350.4 521.4,349.4 522.5,350.0 523.6,350.0 524.7,351.8 525.8,352.1 526.9,355.2 528.0,353.8 529.1,356.2 530.2,358.5 531.3,357.6 532.4,357.6 533.5,359.5 534.6,357.8 535.7,357.1 536.8,357.1 537.9,358.7 539.0,358.8 540.1,356.5 541.2,354.7 542.3,354.0 543.4,354.8 544.5,354.3 545.6,356.2 546.7,356.9 547.8,355.4 548.9,357.0 550.0,356.5 551.1,354.3 552.2,353.1 553.3,356.6 554.4,359.2 555.5,361.7 556.6,359.6 557.7,366.0 558.8,364.0 559.9,367.7 561.0,368.9 562.1,369.6 563.2,369.6 564.3,369.2 565.4,371.9 566.5,371.1 567.6,368.1 568.7,372.5 569.8,369.1 570.9,370.2 572.0,367.6 573.1,370.2 574.2,370.5 575.3,370.7 576.4,369.2 577.5,368.1 578.6,368.2 579.7,365.0 580.8,364.4 581.9,366.1 583.0,365.7 584.1,367.3 585.2,368.1 586.3,371.0 587.4,371.1 588.5,370.3 589.6,371.4 590.7,368.1 591.8,367.5 592.9,367.8 594.0,364.3 595.1,365.1 596.2,363.6 597.3,364.9 598.4,366.4 599.5,363.3 600.6,364.1 601.7,362.5 602.8,361.9 603.9,361.4 605.0,364.2 606.1,364.9 607.2,362.6 608.3,361.6 609.4,363.6 610.5,362.8 611.6,364.5 612.7,364.2 613.8,364.6 614.9,365.1 616.0,363.7 617.1,363.9 618.2,362.3 619.3,363.9 620.4,362.7 621.5,364.2 622.6,363.2 623.7,365.6 624.8,367.9 625.9,367.5 627.0,370.2 628.1,371.9 629.2,376.0 630.3,379.1 631.4,379.9 632.5,380.3 633.6,384.4 634.7,382.2 635.8,387.6 636.9,386.4 638.0,385.2 639.1,393.8 640.0,393.3 640.7,390.3 641.4,392.4 642.1,392.4 642.8,393.3 643.5,391.4 644.2,393.1 644.9,395.1 645.6,395.0 646.3,396.9 647.0,395.4 647.7,399.6 648.4,394.6 649.1,396.6 649.8,392.9 650.5,394.3 651.2,399.5 651.9,395.6 652.6,398.9 653.3,398.2 654.0,396.6 654.7,398.5 655.4,398.6 656.1,399.1 656.8,402.3 657.5,402.6 658.2,400.2 658.9,399.9 659.6,403.2 660.3,402.6 661.0,405.5 661.7,409.6 662.4,405.4 663.1,403.5 663.8,403.4 664.5,401.9 665.2,402.0 665.9,402.0 666.6,403.6 667.3,403.8 668.0,406.8 668.7,404.2 669.4,404.9 670.1,402.1 670.8,408.1 671.5,404.3 672.2,406.4 672.9,403.7 673.6,407.0 674.3,404.4 675.0,408.4 675.7,414.9 676.4,406.8 677.1,414.2 677.8,416.2 678.5,413.8 679.2,415.4 679.9,417.4 680.6,413.2 681.3,416.6 682.0,413.4 682.7,414.1 683.4,414.3 684.1,415.7 684.8,416.6 685.5,417.5 686.2,412.8 686.9,421.8 687.6,419.8 688.3,418.8 689.0,411.0 689.7,406.7 690.4,404.8 691.1,409.2 691.8,408.5 692.5,419.6 693.2,426.6 693.9,414.8 694.6,423.0 695.3,422.0 696.0,421.5 696.7,426.1 697.4,420.0 698.1,424.3 698.8,428.5 699.5,424.8 700.2,424.9 700.9,427.0 701.6,426.2 702.3,432.2 703.0,426.4 703.7,431.8 704.4,426.8 705.1,432.6 705.8,431.3 706.5,425.4 707.2,432.9 707.9,430.8 708.6,433.2 709.3,439.2 710.0,433.1 710.7,434.0 711.4,441.4 712.1,438.8 712.8,443.3 713.5,441.0 714.2,438.6 714.9,441.6 715.6,445.8 716.3,445.8 717.0,444.2 717.7,444.9 718.4,445.1 719.1,444.5 719.8,451.5 720.5,447.2 721.2,444.8 721.9,447.1 722.6,450.8 723.3,451.2 724.0,449.8 724.7,449.0 725.4,451.4 726.1,447.7 726.8,449.2 727.5,453.4 728.2,449.1 728.9,450.2 729.6,451.3 730.3,448.8 731.0,446.1 731.7,450.3 732.4,445.6 733.1,441.9 733.8,446.4 734.5,448.6 735.2,448.4 735.9,453.6 736.6,456.0 737.3,453.2 738.0,459.2 738.7,460.4 739.4,461.6 740.1,460.1 740.8,464.8 741.5,467.1 742.2,469.0 742.9,467.4 743.6,473.3 744.3,469.7 745.0,472.6 745.7,476.8 746.4,472.4 747.1,473.4 747.8,477.7 748.5,472.8 749.2,470.3 749.9,468.8 750.6,468.0 751.3,459.7 752.0,465.5 752.7,467.6 753.4,469.9 754.1,471.7 754.8,471.4 755.5,473.7 756.2,470.5 756.9,473.7 757.6,477.9 758.3,478.8 759.0,484.5 759.7,490.7 760.4,488.0 761.1,486.2 761.8,487.9 762.5,486.3 763.2,489.5 763.9,491.3 764.6,487.8 765.3,489.6 766.0,492.6 766.7,488.8 767.4,490.4 768.1,487.5 768.8,488.0 769.5,488.6 770.2,494.6 770.9,488.8 771.6,488.5 772.3,488.3 773.0,489.2 773.7,491.0 774.4,490.4 775.1,495.2 775.8,491.7 776.5,495.0 777.2,493.0 777.9,494.3 778.6,490.4 779.3,494.3 780.0,495.7" fill="none" stroke="#ee1111" stroke-width="2.3" stroke-linejoin="round" stroke-linecap="round"/>
</g>
<rect x="68.5" y="456.4" width="480.6" height="35.7" fill="#fff"/>
<line x1="70.5" y1="464.6" x2="97.5" y2="464.6" stroke="#48c24e" stroke-width="1.9" stroke-linecap="round"/>
<line x1="70.5" y1="482.0" x2="97.5" y2="482.0" stroke="#ee1111" stroke-width="2.4" stroke-linecap="round"/>
<text transform="translate(105.2 470.5) scale(0.884 1)" text-anchor="start" >20240517_CWT_120kph_0deg_C7.FFT (average) FLOE L(A)=70.20 dB(SPL)</text>
<text transform="translate(105.2 487.4) scale(0.884 1)" text-anchor="start" >20240517_CWT_120kph_0deg_C13.FFT (average) FLOE L(A)=70.24 dB(SPL)</text>
<rect x="62.0" y="281.0" width="720.6" height="217.0" fill="none" stroke="#8a8a8a" stroke-width="1.2"/>
<line x1="62.0" y1="281.0" x2="62.0" y2="498.0" stroke="#888" stroke-width="1.3"/>
<line x1="62.0" y1="498.0" x2="782.6" y2="498.0" stroke="#888" stroke-width="1.3"/>
<circle cx="62.0" cy="498.0" r="2.3" fill="#0a1224"/>
<text transform="translate(63.6 276.7) scale(0.88 1)" text-anchor="start" >20240517_CWT_120kph_0deg_C7.FFT (average)</text>
<text transform="translate(57.2 292.0) scale(0.88 1)" text-anchor="end" >70</text>
<text transform="translate(57.2 307.0) scale(0.88 1)" text-anchor="end" >L(A)</text>
<text transform="translate(57.2 322.0) scale(0.88 1)" text-anchor="end" >dB(SPL)</text>
<text transform="translate(57.2 350.9) scale(0.88 1)" text-anchor="end" >40</text>
<text transform="translate(57.2 372.7) scale(0.88 1)" text-anchor="end" >30</text>
<text transform="translate(57.2 393.9) scale(0.88 1)" text-anchor="end" >20</text>
<text transform="translate(57.2 415.4) scale(0.88 1)" text-anchor="end" >10</text>
<text transform="translate(57.2 437.1) scale(0.88 1)" text-anchor="end" >0</text>
<text transform="translate(57.2 458.9) scale(0.88 1)" text-anchor="end" >-10</text>
<text transform="translate(57.2 496.0) scale(0.88 1)" text-anchor="end" >-30</text>
<text transform="translate(112.4 514.6) scale(0.88 1)" text-anchor="middle" >20</text>
<text transform="translate(199.1 514.6) scale(0.88 1)" text-anchor="middle" >50</text>
<text transform="translate(264.6 514.6) scale(0.88 1)" text-anchor="middle" >100</text>
<text transform="translate(330.1 514.6) scale(0.88 1)" text-anchor="middle" >200</text>
<text transform="translate(416.8 514.6) scale(0.88 1)" text-anchor="middle" >500</text>
<text transform="translate(482.3 514.6) scale(0.88 1)" text-anchor="middle" >1000</text>
<text transform="translate(547.8 514.6) scale(0.88 1)" text-anchor="middle" >2000</text>
<text transform="translate(634.5 514.6) scale(0.88 1)" text-anchor="middle" >5000</text>
<text transform="translate(701.0 514.6) scale(0.88 1)" text-anchor="middle" >10k</text>
<text transform="translate(752.0 514.6) scale(0.88 1)" text-anchor="end" >f/Hz</text>
<text transform="translate(766.2 514.6) scale(0.88 1)" text-anchor="middle" >20k</text>
<g fill="#fff">
<rect x="520.8" y="495.2" width="2.1" height="5.6"/>
<rect x="579.5" y="495.2" width="3.5" height="5.6"/>
<rect x="598.5" y="495.2" width="4.5" height="5.6"/>
<rect x="606" y="495.2" width="4.0" height="5.6"/>
<rect x="613.6" y="495.2" width="4.4" height="5.6"/>
<rect x="623" y="495.2" width="2.0" height="5.6"/>
<rect x="632" y="495.2" width="8.0" height="5.6"/>
<rect x="643.8" y="495.2" width="2.8" height="5.6"/>
<rect x="649.5" y="495.2" width="2.8" height="5.6"/>
<rect x="655.2" y="495.2" width="2.8" height="5.6"/>
<rect x="662.7" y="495.2" width="2.9" height="5.6"/>
<rect x="677.9" y="495.2" width="2.8" height="5.6"/>
<rect x="713" y="495.2" width="4.6" height="5.6"/>
<rect x="733" y="495.2" width="18.7" height="5.6"/>
<rect x="757.4" y="495.2" width="11.4" height="5.6"/>
<rect x="522.9" y="498.0" width="56.6" height="2.8"/>
<rect x="733" y="495.2" width="18" height="5.6" opacity="0.6"/>
<rect x="534" y="503.5" width="29" height="2.2" rx="0.8" opacity="0.95"/>
<rect x="534" y="512.2" width="29" height="2.0" rx="0.8" opacity="0.95"/>
<rect x="534" y="505" width="29" height="8" rx="0.8" opacity="0.45"/>
<rect x="541.5" y="506" width="1.6" height="6" rx="0.8" opacity="0.9"/>
<rect x="548" y="506" width="1.4" height="6" rx="0.8" opacity="0.8"/>
<rect x="554.5" y="506" width="1.4" height="6" rx="0.8" opacity="0.8"/>
<rect x="633.5" y="507.5" width="2.2" height="5" rx="0.8" opacity="0.9"/>
<rect x="640.5" y="506.5" width="2.0" height="4" rx="0.8" opacity="0.85"/>
<rect x="627" y="504" width="4" height="2.2" rx="0.8" opacity="0.8"/>
<rect x="704.5" y="504" width="6" height="4.2" rx="0.8" opacity="0.9"/>
<rect x="706" y="511" width="5" height="3" rx="0.8" opacity="0.6"/>
<rect x="731" y="503.5" width="46" height="1.8" rx="0.8" opacity="0.8"/>
<rect x="733.5" y="504" width="2.0" height="11" rx="0.8" opacity="0.9"/>
<rect x="738" y="506" width="2.5" height="2.5" rx="0.8" opacity="0.9"/>
<rect x="744.5" y="504" width="2.4" height="5" rx="0.8" opacity="0.9"/>
<rect x="748.5" y="510.5" width="7" height="1.6" rx="0.8" opacity="0.9"/>
<rect x="741" y="512.5" width="10" height="2" rx="0.8" opacity="0.7"/>
<rect x="758" y="509.5" width="6" height="1.8" rx="0.8" opacity="0.9"/>
<rect x="764.5" y="505.5" width="2.4" height="7" rx="0.8" opacity="0.8"/>
<rect x="770.5" y="504" width="3" height="4.5" rx="0.8" opacity="0.9"/>
<rect x="772.5" y="510.5" width="4" height="3" rx="0.8" opacity="0.6"/>
</g>
</g>
<rect x="0" y="0" width="792" height="2" fill="#000"/>
<rect x="0" y="525" width="792" height="2" fill="#000"/>
<rect x="0" y="0" width="2" height="527" fill="#000"/>
<rect x="790" y="0" width="2" height="527" fill="#000"/>
</svg>
</body></html>
